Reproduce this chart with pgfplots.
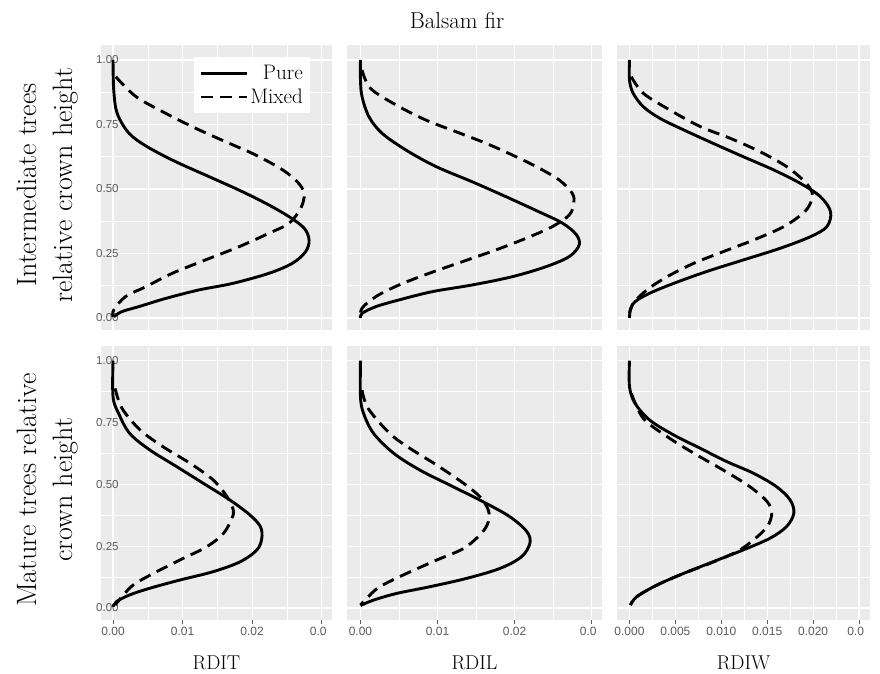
\documentclass[border=0pt]{standalone}
\usepackage{fontspec}
\usepackage{pgfplots}
\pgfplotsset{compat=1.18}
\newfontfamily\tickfont{Liberation Sans}
\definecolor{panel}{HTML}{EBEBEB}
\definecolor{ticktext}{HTML}{5A5A5A}

\pgfplotsset{
 gg/.style={
  scale only axis,
  scaled x ticks=false, scaled y ticks=false,
  axis background/.style={fill=panel},
  axis line style={draw=none},
  xmajorgrids, ymajorgrids, xminorgrids, yminorgrids,
  major grid style={white, line width=1.1pt},
  minor grid style={white, line width=0.5pt},
  ytick={0,0.25,0.5,0.75,1},
  minor ytick={0.125,0.375,0.625,0.875},
  tick align=outside,
  xtick pos=bottom, ytick pos=left,
  major tick length=4pt, minor tick length=0pt,
  ytick style={draw=none},
  xtick style={draw=ticktext, line width=0.8pt},
  tick label style={font=\tickfont\fontsize{12}{12}\selectfont, text=ticktext},
  yticklabel style={anchor=west, inner sep=0pt, xshift=-1pt, font=\tickfont\fontsize{11.5}{11.5}\selectfont},
  yticklabels={},
  xticklabels={},
  clip=true,
 },
 toprow/.style={height=285pt, ymin=-0.0465, ymax=1.058, xtick style={draw=none}},
 botrow/.style={height=274pt, ymin=-0.0485, ymax=1.0595},
 colA/.style={width=231pt, xmin=-0.00173, xmax=0.0315,
   xtick={0,0.01,0.02,0.03}, minor xtick={0.005,0.015,0.025}},
 colB/.style={width=255pt, xmin=-0.00175, xmax=0.03136,
   xtick={0,0.01,0.02,0.03}, minor xtick={0.005,0.015,0.025}},
 colC/.style={width=253pt, xmin=-0.00136, xmax=0.0262,
   xtick={0,0.005,0.01,0.015,0.02,0.025}, minor xtick={0.0025,0.0075,0.0125,0.0175,0.0225}},
 pure/.style={black, line width=2.9pt, smooth, tension=0.55, line join=round},
 mixed/.style={black, line width=2.9pt, smooth, tension=0.55, line join=round, dash pattern=on 12pt off 7pt},
}

\pgfplotstableread{
x y
0 1.0
0.0001 0.884
0.0006 0.793
0.0023 0.716
0.0049 0.664
0.0090 0.606
0.0138 0.548
0.0181 0.496
0.0220 0.444
0.0253 0.393
0.0275 0.348
0.0282 0.302
0.0277 0.257
0.0258 0.212
0.0224 0.173
0.0172 0.134
0.0124 0.109
0.0076 0.076
0.0037 0.044
0.0013 0.025
0.0001 0.005
}\TAP
\pgfplotstableread{
x y
0.0004 0.935
0.0033 0.858
0.0076 0.793
0.0119 0.735
0.0162 0.683
0.0205 0.632
0.0244 0.574
0.0265 0.528
0.0275 0.483
0.0270 0.425
0.0253 0.367
0.0224 0.328
0.0181 0.276
0.0133 0.225
0.0085 0.173
0.0047 0.121
0.0018 0.083
0.0001 0.031
0.0 0.005
}\TAM
\pgfplotstableread{
x y
0 1.0
0 0.922
0.0002 0.858
0.0011 0.780
0.0028 0.716
0.0059 0.651
0.0098 0.587
0.0145 0.528
0.0189 0.470
0.0230 0.414
0.0262 0.368
0.0280 0.324
0.0284 0.283
0.0271 0.238
0.0241 0.199
0.0197 0.160
0.0145 0.128
0.0093 0.102
0.0050 0.070
0.0020 0.044
0.0002 0.018
0 0.0
}\TBP
\pgfplotstableread{
x y
0.0002 0.961
0.0013 0.890
0.0046 0.826
0.0085 0.767
0.0124 0.722
0.0163 0.677
0.0197 0.632
0.0228 0.587
0.0258 0.535
0.0275 0.483
0.0277 0.444
0.0271 0.399
0.0249 0.354
0.0215 0.309
0.0176 0.264
0.0132 0.218
0.0089 0.173
0.0050 0.128
0.0020 0.083
0.0002 0.038
0 0.0
}\TBM
\pgfplotstableread{
x y
0 1.0
0 0.922
0.0004 0.871
0.0015 0.819
0.0033 0.774
0.0059 0.729
0.0091 0.677
0.0124 0.625
0.0157 0.574
0.0186 0.522
0.0208 0.470
0.0219 0.412
0.0215 0.354
0.0197 0.315
0.0164 0.270
0.0124 0.225
0.0084 0.180
0.0048 0.134
0.0022 0.096
0.0006 0.063
0.0001 0.031
0 0.0
}\TCP
\pgfplotstableread{
x y
0.0002 0.935
0.0015 0.871
0.0044 0.806
0.0077 0.742
0.0110 0.696
0.0142 0.645
0.0171 0.587
0.0191 0.528
0.0199 0.485
0.0197 0.444
0.0189 0.406
0.0168 0.354
0.0135 0.302
0.0102 0.257
0.0070 0.212
0.0041 0.160
0.0019 0.109
0.0004 0.057
0 0.018
}\TCM
\pgfplotstableread{
x y
0 1.0
0 0.854
0.0008 0.787
0.0024 0.706
0.0053 0.639
0.0092 0.571
0.0130 0.504
0.0168 0.437
0.0197 0.376
0.0212 0.329
0.0214 0.282
0.0207 0.235
0.0183 0.187
0.0144 0.147
0.0096 0.113
0.0053 0.080
0.0024 0.053
0.0005 0.026
0 0.005
}\BAP
\pgfplotstableread{
x y
0.0003 0.888
0.0013 0.807
0.0039 0.720
0.0072 0.652
0.0111 0.585
0.0144 0.518
0.0164 0.450
0.0173 0.396
0.0171 0.363
0.0159 0.302
0.0135 0.248
0.0096 0.194
0.0058 0.140
0.0029 0.093
0.0013 0.046
0.0003 0.012
}\BAM
\pgfplotstableread{
x y
0 1.0
0 0.854
0.0004 0.787
0.0017 0.706
0.0043 0.626
0.0077 0.558
0.0116 0.497
0.0159 0.430
0.0194 0.369
0.0216 0.309
0.0220 0.262
0.0209 0.207
0.0181 0.160
0.0138 0.120
0.0090 0.086
0.0047 0.059
0.0017 0.032
0 0.010
}\BBP
\pgfplotstableread{
x y
0.0002 0.881
0.0010 0.807
0.0038 0.706
0.0064 0.646
0.0099 0.578
0.0134 0.504
0.0155 0.450
0.0166 0.396
0.0166 0.349
0.0157 0.302
0.0134 0.241
0.0099 0.194
0.0060 0.140
0.0025 0.086
0.0008 0.039
0 0.012
}\BBM
\pgfplotstableread{
x y
0 1.0
0 0.895
0.0006 0.828
0.0022 0.760
0.0048 0.700
0.0077 0.646
0.0106 0.592
0.0135 0.545
0.0160 0.491
0.0175 0.437
0.0179 0.383
0.0171 0.329
0.0153 0.282
0.0124 0.235
0.0091 0.187
0.0059 0.140
0.0030 0.093
0.0008 0.046
0.0001 0.012
}\BCP
\pgfplotstableread{
x y
0.0002 0.868
0.0015 0.767
0.0041 0.693
0.0070 0.626
0.0102 0.558
0.0131 0.491
0.0150 0.430
0.0155 0.383
0.0150 0.329
0.0135 0.275
0.0117 0.228
0.0088 0.181
0.0059 0.140
0.0030 0.093
0.0008 0.046
0.0001 0.012
}\BCM

\begin{document}
\begin{tikzpicture}
\useasboundingbox (0pt,0pt) rectangle (880pt,673pt);

% ---- top row ----
\begin{axis}[gg, toprow, colA, at={(101pt,343pt)}, anchor=south west,
  yticklabels={0.00,0.25,0.50,0.75,1.00},
  legend style={at={(rel axis cs:0.905,0.958)}, anchor=north east, fill=white, draw=none,
    font=\fontsize{21}{25}\selectfont, cells={anchor=east}, inner xsep=5pt, inner ysep=6pt,
    row sep=4pt},
  legend image code/.code={\draw[#1] (0pt,0pt) -- (46pt,0pt);},
  legend cell align=right]
\addplot[pure] table {\TAP};
\addlegendentry{Pure}
\addplot[mixed] table {\TAM};
\addlegendentry{Mixed}
\end{axis}

\begin{axis}[gg, toprow, colB, at={(347pt,343pt)}, anchor=south west]
\addplot[pure] table {\TBP};
\addplot[mixed] table {\TBM};
\end{axis}

\begin{axis}[gg, toprow, colC, at={(617pt,343pt)}, anchor=south west]
\addplot[pure] table {\TCP};
\addplot[mixed] table {\TCM};
\end{axis}

% ---- bottom row ----
\begin{axis}[gg, botrow, colA, at={(101pt,53pt)}, anchor=south west,
  yticklabels={0.00,0.25,0.50,0.75,1.00},
  xticklabels={0.00,0.01,0.02,0.0\phantom{3}}]
\addplot[pure] table {\BAP};
\addplot[mixed] table {\BAM};
\end{axis}

\begin{axis}[gg, botrow, colB, at={(347pt,53pt)}, anchor=south west,
  xticklabels={0.00,0.01,0.02,0.0\phantom{3}}]
\addplot[pure] table {\BBP};
\addplot[mixed] table {\BBM};
\end{axis}

\begin{axis}[gg, botrow, colC, at={(617pt,53pt)}, anchor=south west,
  xticklabels={0.000,0.005,0.010,0.015,0.020,0.0\phantom{2}}]
\addplot[pure] table {\BCP};
\addplot[mixed] table {\BCM};
\end{axis}

% ---- titles ----
\node[font=\fontsize{23}{27}\selectfont] at (457pt,652pt) {Balsam fir};
\node[font=\fontsize{20}{24}\selectfont] at (216.5pt,10pt) {RDIT};
\node[font=\fontsize{20}{24}\selectfont] at (474.5pt,10pt) {RDIL};
\node[font=\fontsize{20}{24}\selectfont] at (743.5pt,10pt) {RDIW};
\node[rotate=90, align=center, font=\fontsize{28}{36}\selectfont] at (48pt,488pt) {Intermediate trees\\relative crown height};
\node[rotate=90, align=center, font=\fontsize{28}{36}\selectfont] at (48pt,183pt) {Mature trees relative\\crown height};
\end{tikzpicture}
\end{document}
